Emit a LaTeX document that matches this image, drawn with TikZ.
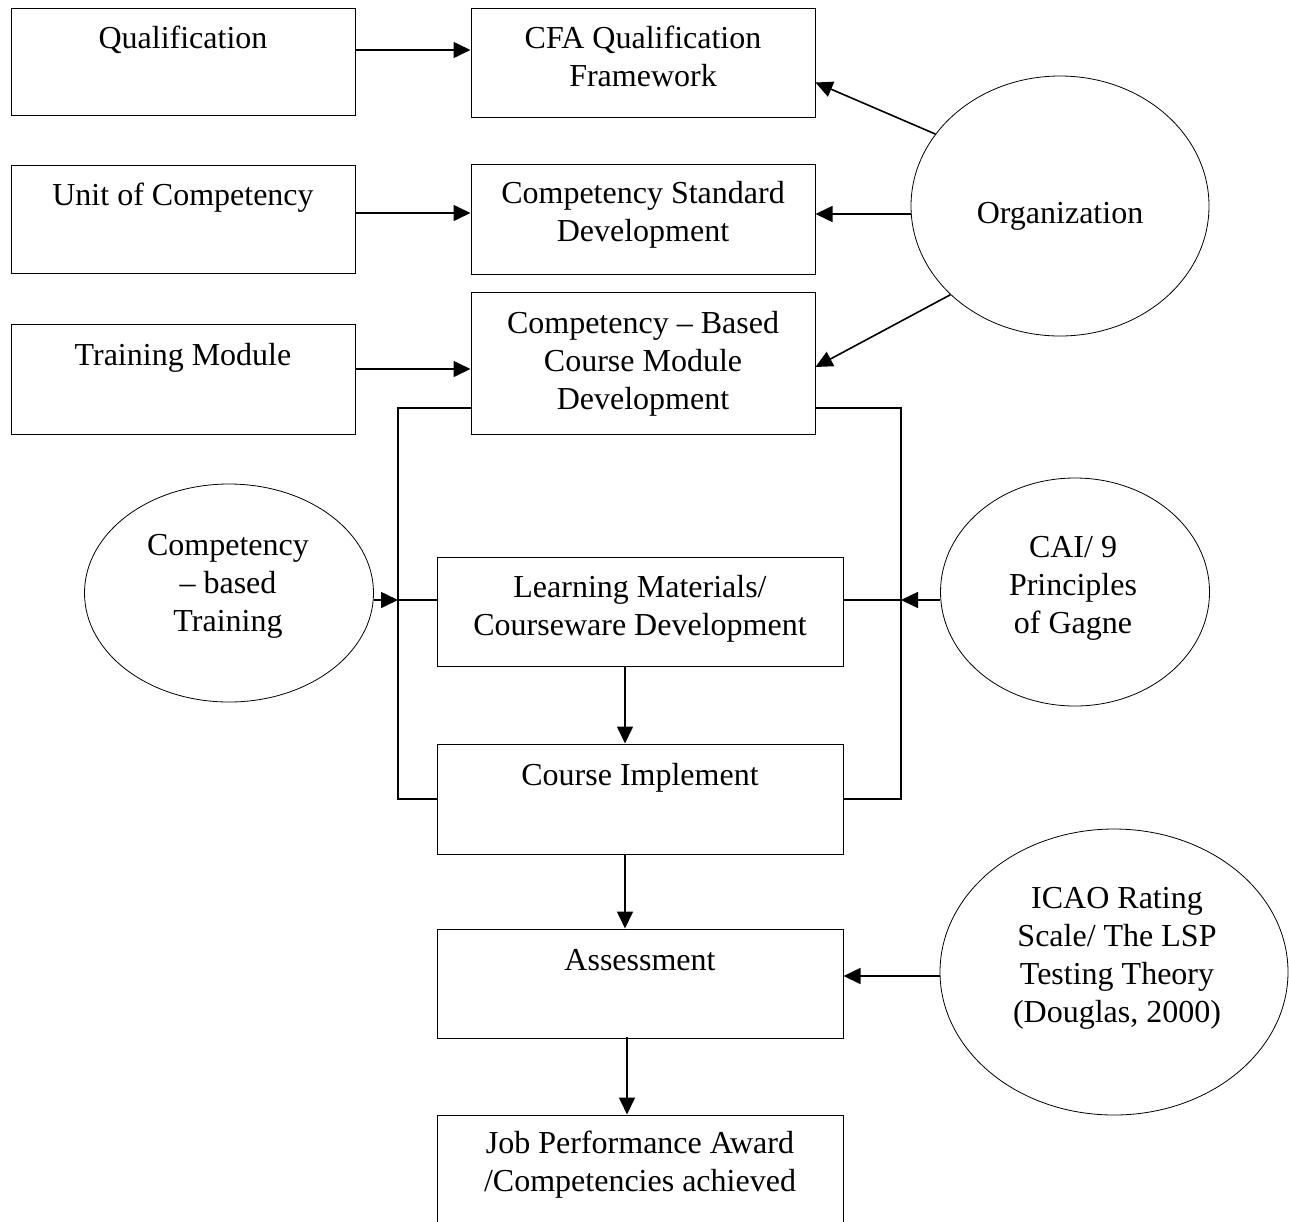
\documentclass[tikz,border=0pt]{standalone}
\usepackage{fontspec}
\setmainfont{Liberation Serif}
\usetikzlibrary{arrows.meta,shapes.geometric}

\tikzset{
  box/.style={draw, rectangle, line width=1pt, inner sep=0pt},
  oval/.style={draw, ellipse, line width=0.8pt, inner sep=0pt},
  txt/.style={align=center, inner sep=0pt, anchor=north,
              font=\fontsize{32}{38}\selectfont},
  link/.style={line width=1.6pt},
  arr/.style={line width=1.6pt, -{Triangle[length=17pt,width=16pt]}}
}

\begin{document}
\begin{tikzpicture}[x=1pt,y=-1pt]
  \fill[white] (0,0) rectangle (1289,1221);
  \useasboundingbox (0,0) rectangle (1289,1221);
  \clip (0,0) rectangle (1289,1221);

  % rectangular stages
  \node[box, minimum width=344pt, minimum height=107pt] (qual)   at (183,61.5) {};
  \node[box, minimum width=344pt, minimum height=109pt] (cfa)    at (643,62.5) {};
  \node[box, minimum width=344pt, minimum height=108pt] (uoc)    at (183,219) {};
  \node[box, minimum width=344pt, minimum height=110pt] (csd)    at (643,219) {};
  \node[box, minimum width=344pt, minimum height=110pt] (tm)     at (183,379) {};
  \node[box, minimum width=344pt, minimum height=142pt] (cbcmd)  at (643,363) {};
  \node[box, minimum width=406pt, minimum height=109pt] (lm)     at (640,611.5) {};
  \node[box, minimum width=406pt, minimum height=110pt] (ci)     at (640,799) {};
  \node[box, minimum width=406pt, minimum height=109pt] (assess) at (640,983.5) {};
  \node[box, minimum width=406pt, minimum height=120pt] (jpa)    at (640,1175) {};

  % oval inputs
  \node[oval, minimum width=298pt, minimum height=260pt] (org)  at (1060,206) {};
  \node[oval, minimum width=289pt, minimum height=218pt] (cbt)  at (229,593) {};
  \node[oval, minimum width=269pt, minimum height=228pt] (cai)  at (1075,592) {};
  \node[oval, minimum width=348pt, minimum height=286pt] (icao) at (1114,972) {};

  % labels
  \node[txt] (qualT)   at ([yshift=-14pt]qual.north)   {\strut Qualification};
  \node[txt] (cfaT)    at ([yshift=-14pt]cfa.north)    {\strut CFA Qualification\\Framework};
  \node[txt] (uocT)    at ([yshift=-14pt]uoc.north)    {\strut Unit of Competency};
  \node[txt] (csdT)    at ([yshift=-13pt]csd.north)    {\strut Competency Standard\\Development};
  \node[txt] (tmT)     at ([yshift=-15pt]tm.north)     {\strut Training Module};
  \node[txt] (cbcmdT)  at ([yshift=-15pt]cbcmd.north)  {\strut Competency -- Based\\Course Module\\Development};
  \node[txt] (lmT)     at ([yshift=-14pt]lm.north)     {\strut Learning Materials/\\Courseware Development};
  \node[txt] (ciT)     at ([yshift=-15pt]ci.north)     {\strut Course Implement};
  \node[txt] (assessT) at ([yshift=-15pt]assess.north) {\strut Assessment};
  \node[txt] (jpaT)    at ([yshift=-12pt]jpa.north)    {\strut Job Performance Award\\/Competencies achieved};
  \node[txt] (orgT)    at (1060,197) {\strut Organization};
  \node[txt] (cbtT)    at (228,529)  {\strut Competency\\-- based\\Training};
  \node[txt] (caiT)    at (1073,531) {\strut CAI/ 9\\Principles\\of Gagne};
  \node[txt] (icaoT)   at (1117,882) {\strut ICAO Rating\\Scale/ The LSP\\Testing Theory\\(Douglas, 2000)};

  % arrows from the left column
  \coordinate (qa) at ([yshift=11.5pt]qual.east);
  \coordinate (ua) at ([yshift=6pt]uoc.east);
  \coordinate (ta) at ([yshift=10pt]tm.east);
  \draw[arr] (qa) -- (qa -| cfa.west);
  \draw[arr] (ua) -- (ua -| csd.west);
  \draw[arr] (ta) -- (ta -| cbcmd.west);

  % arrows from Organization
  \coordinate (oc) at ([yshift=-8pt]org.west);
  \draw[arr] (org.150) -- ([yshift=-20pt]cfa.east);
  \draw[arr] (oc) -- (oc -| csd.east);
  \draw[arr] (org.219) -- ([yshift=-4pt]cbcmd.east);

  % side rails joining the module box to the implementation box
  \coordinate (lbus) at (398,408);
  \coordinate (rbus) at (901,408);
  \coordinate (lmrow) at (0,600);
  \draw[link] (cbcmd.west |- lbus) -- (lbus) -- (lbus |- ci.west) -- (ci.west);
  \draw[link] (cbcmd.east |- rbus) -- (rbus) -- (rbus |- ci.east) -- (ci.east);
  \draw[link] (lbus |- lmrow) -- (lm.west |- lmrow);
  \draw[link] (lm.east |- lmrow) -- (rbus |- lmrow);
  \draw[arr] (cbt.east |- lmrow) -- (lbus |- lmrow);
  \draw[arr] (cai.west |- lmrow) -- (rbus |- lmrow);

  % main vertical flow
  \draw[arr] ([xshift=-15pt]lm.south) -- ([xshift=-15pt]ci.north);
  \draw[arr] ([xshift=-15pt]ci.south) -- ([xshift=-15pt]assess.north);
  \draw[arr] ([xshift=-13pt,yshift=2pt]assess.south) -- ([xshift=-13pt]jpa.north);

  % rating scale input
  \coordinate (ia) at ([yshift=-4pt]icao.west);
  \draw[arr] (ia) -- (ia -| assess.east);
\end{tikzpicture}
\end{document}
